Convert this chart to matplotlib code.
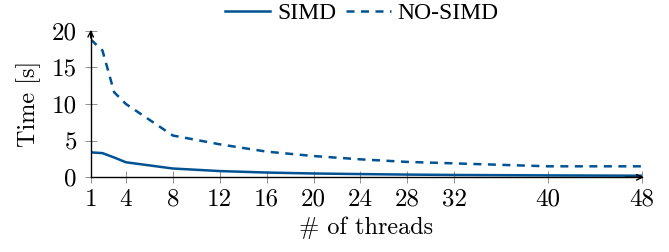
# %%
# SIMD vs NO-SIMD execution time per thread count

# %%
# Imports
import matplotlib.pyplot as plt
from matplotlib.ticker import FixedLocator

# %%
# Data
threads = [1, 2, 3, 4, 8, 12, 16, 20, 24, 28, 32, 40, 48]
simd = [3.4, 3.3, 2.7, 2.05, 1.2, 0.85, 0.65, 0.52, 0.44, 0.37, 0.32, 0.26, 0.22]
no_simd = [18.8, 17.3, 11.6, 10.0, 5.7, 4.5, 3.5, 2.9, 2.45, 2.1, 1.9, 1.5, 1.5]
xticks = [1, 4, 8, 12, 16, 20, 24, 28, 32, 40, 48]
yticks = [0, 5, 10, 15, 20]

# %%
# Style
plt.rcParams['font.family'] = ['Liberation Serif', 'DejaVu Serif']
blue = '#005293'
cm = 'cmr10'

# %%
fig = plt.figure(figsize=(6.69, 2.52), dpi=100)
ax = fig.add_axes([0.1356, 0.2964, 0.824, 0.582])

ax.plot(threads, simd, color=blue, lw=1.8, label='SIMD')
ax.plot(threads, no_simd, color=blue, lw=1.8, ls=(0, (3.2, 2.6)), label='NO-SIMD')

ax.set_xlim(1, 48)
ax.set_ylim(0, 20)
ax.xaxis.set_major_locator(FixedLocator(xticks))
ax.yaxis.set_major_locator(FixedLocator(yticks))
ax.set_xticklabels([str(t) for t in xticks], family=cm, fontsize=18)
ax.set_yticklabels([str(t) for t in yticks], family=cm, fontsize=18)
ax.tick_params(direction='inout', length=8, width=0.6, color='#808080')
ax.tick_params(axis='x', pad=4)
ax.tick_params(axis='y', pad=6)

for s in ['top', 'right']:
    ax.spines[s].set_visible(False)
for s in ['left', 'bottom']:
    ax.spines[s].set_linewidth(1.0)

# axis arrows
ax.annotate('', xy=(1.003, 0), xytext=(0.97, 0), xycoords='axes fraction',
            arrowprops=dict(arrowstyle='->', lw=1.0, color='black',
                            shrinkA=0, shrinkB=0))
ax.annotate('', xy=(0, 1.005), xytext=(0, 0.95), xycoords='axes fraction',
            arrowprops=dict(arrowstyle='->', lw=1.0, color='black',
                            shrinkA=0, shrinkB=0))

ax.set_xlabel('# of threads', family=cm, fontsize=17.5, labelpad=4)
ax.set_ylabel('Time [s]', family=cm, fontsize=17.5, labelpad=8)

fig.legend(*ax.get_legend_handles_labels(), loc='center',
           bbox_to_anchor=(0.541, 0.948), ncol=2, frameon=False,
           prop={'family': 'Liberation Serif', 'size': 17},
           handlelength=1.9, handletextpad=0.3, columnspacing=0.4,
           borderaxespad=0, borderpad=0)

fig.savefig('out.png', dpi=100)
